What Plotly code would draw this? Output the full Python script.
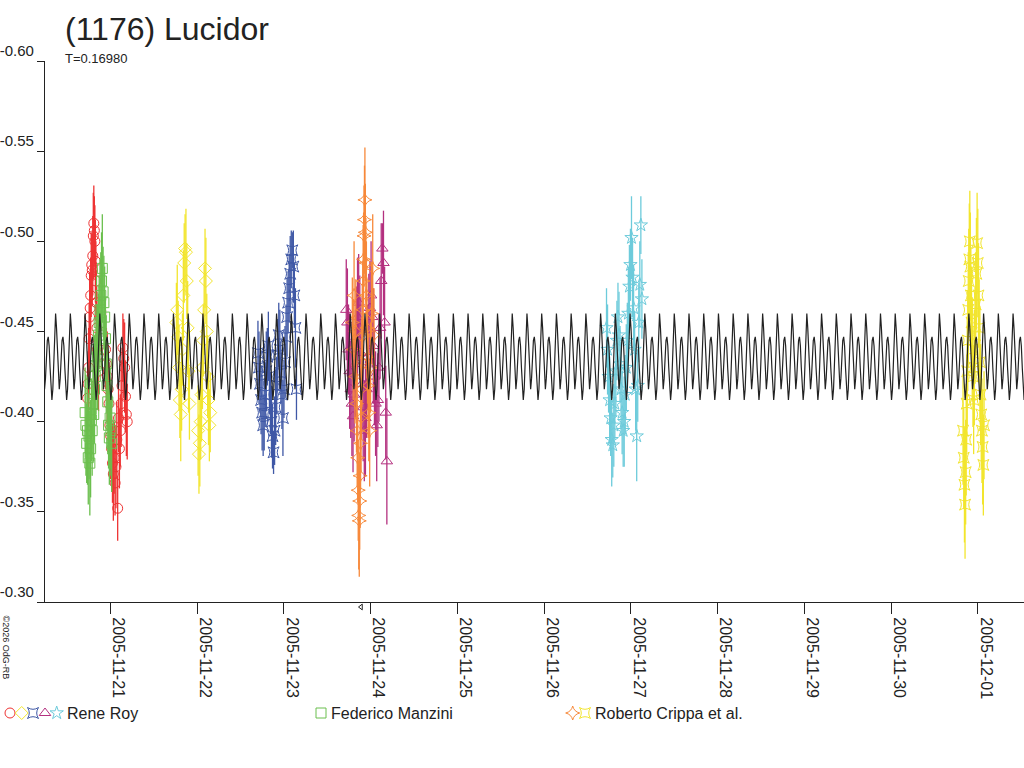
import numpy as np
import pandas as pd
import plotly.graph_objects as go

# ---------------- data ----------------
BASE_DATE = "2005-11-21"          # day offsets below are relative to this date (00:00 UT)
PERIOD_DAYS = 0.16980             # T
CURVE_EPOCH = 3.954               # day offset of a main maximum of the model curve
# one period of the model curve (16 equally spaced phases), magnitudes
curve_profile = [-0.460, -0.452, -0.437, -0.423, -0.418, -0.424, -0.436, -0.445,
                 -0.447, -0.442, -0.430, -0.418, -0.412, -0.418, -0.435, -0.452]
curve_start, curve_end = -0.76, 10.54

# Rene Roy - red circles
red_t = [-0.262, -0.256, -0.250, -0.244, -0.238, -0.232, -0.226, -0.220, -0.214, -0.208, -0.202,
         -0.196, -0.190, -0.184, -0.178, -0.172, -0.166, -0.160, -0.154, -0.148, -0.142, -0.136,
         -0.055, -0.045, -0.035, -0.025, -0.015, -0.005, 0.005, 0.015, 0.025, 0.035, 0.045, 0.055,
         0.065, 0.075, 0.085, 0.095, 0.105, 0.115, 0.125, 0.135, 0.145, 0.155, 0.165, 0.175, 0.185, 0.195]
red_m = [-0.413, -0.421, -0.430, -0.446, -0.458, -0.463, -0.470, -0.481, -0.487, -0.484, -0.492,
         -0.503, -0.510, -0.506, -0.500, -0.489, -0.478, -0.466, -0.452, -0.440, -0.437, -0.428,
         -0.440, -0.432, -0.425, -0.418, -0.410, -0.398, -0.392, -0.385, -0.377, -0.371, -0.380, -0.366,
         -0.375, -0.390, -0.352, -0.402, -0.385, -0.395, -0.410, -0.420, -0.441, -0.435, -0.430, -0.414, -0.404, -0.400]
red_e = [0.020, 0.018, 0.022, 0.020, 0.025, 0.019, 0.021, 0.023, 0.018, 0.020, 0.022,
         0.024, 0.021, 0.019, 0.020, 0.023, 0.022, 0.018, 0.020, 0.021, 0.019, 0.022,
         0.022, 0.020, 0.025, 0.019, 0.023, 0.021, 0.024, 0.018, 0.022, 0.026, 0.020, 0.018,
         0.023, 0.021, 0.018, 0.019, 0.022, 0.020, 0.024, 0.021, 0.019, 0.022, 0.025, 0.020, 0.023, 0.021]

# Federico Manzini - green squares
green_t = [-0.290, -0.281, -0.272, -0.263, -0.254, -0.245, -0.236, -0.227, -0.218, -0.209, -0.200, -0.191,
           -0.182, -0.173, -0.164, -0.155, -0.146, -0.137, -0.128, -0.119, -0.110, -0.101, -0.092, -0.083,
           -0.074, -0.065, -0.056, -0.047, -0.038, -0.029, -0.020, -0.011, -0.002, 0.007, 0.016]
green_m = [-0.405, -0.398, -0.388, -0.395, -0.380, -0.392, -0.377, -0.385, -0.401, -0.395, -0.410, -0.404,
           -0.418, -0.425, -0.431, -0.440, -0.436, -0.448, -0.455, -0.462, -0.470, -0.478, -0.485, -0.472,
           -0.466, -0.458, -0.446, -0.432, -0.420, -0.411, -0.398, -0.391, -0.402, -0.395, -0.388]
green_e = [0.025, 0.028, 0.022, 0.030, 0.026, 0.024, 0.029, 0.027, 0.023, 0.025, 0.028, 0.026,
           0.030, 0.024, 0.027, 0.025, 0.029, 0.023, 0.026, 0.028, 0.024, 0.027, 0.030, 0.025,
           0.026, 0.028, 0.023, 0.027, 0.025, 0.029, 0.024, 0.026, 0.028, 0.025, 0.027]

# Rene Roy - yellow diamonds
ydia_t = [0.762, 0.772, 0.782, 0.792, 0.802, 0.812, 0.822, 0.832, 0.842, 0.852, 0.862, 0.872, 0.882, 0.892,
          0.902, 0.912, 1.012, 1.022, 1.032, 1.042, 1.052, 1.062, 1.072, 1.082, 1.092, 1.102, 1.112, 1.122,
          1.132, 1.142, 1.152]
ydia_m = [-0.455, -0.462, -0.447, -0.430, -0.412, -0.404, -0.418, -0.440, -0.470, -0.488, -0.496, -0.494,
          -0.478, -0.452, -0.428, -0.410, -0.395, -0.382, -0.388, -0.400, -0.415, -0.430, -0.445, -0.462,
          -0.485, -0.478, -0.450, -0.425, -0.412, -0.398, -0.405]
ydia_e = [0.022, 0.025, 0.020, 0.024, 0.021, 0.026, 0.023, 0.020, 0.025, 0.022, 0.019, 0.024, 0.021, 0.026,
          0.023, 0.020, 0.025, 0.022, 0.024, 0.021, 0.026, 0.023, 0.020, 0.025, 0.022, 0.024, 0.021, 0.023,
          0.025, 0.020, 0.022]

# Rene Roy - blue
blue_t = [1.702, 1.714, 1.726, 1.738, 1.750, 1.762, 1.774, 1.786, 1.798, 1.810, 1.822, 1.834, 1.846, 1.858,
          1.870, 1.882, 1.894, 1.906, 1.918, 1.930, 1.942, 1.954, 1.966, 1.978, 1.990, 2.002, 2.014, 2.026,
          2.038, 2.050, 2.062, 2.074, 2.086, 2.098, 2.110, 2.122, 2.134, 2.146]
blue_m = [-0.438, -0.430, -0.421, -0.412, -0.405, -0.398, -0.404, -0.415, -0.428, -0.436, -0.442, -0.425,
          -0.410, -0.400, -0.392, -0.383, -0.395, -0.408, -0.420, -0.437, -0.448, -0.440, -0.427, -0.415,
          -0.402, -0.418, -0.433, -0.447, -0.458, -0.466, -0.474, -0.482, -0.490, -0.495, -0.486, -0.470,
          -0.452, -0.418]
blue_e = [0.018, 0.020, 0.016, 0.019, 0.021, 0.017, 0.020, 0.018, 0.022, 0.016, 0.019, 0.021, 0.017, 0.020,
          0.018, 0.012, 0.019, 0.021, 0.016, 0.020, 0.018, 0.022, 0.017, 0.019, 0.021, 0.016, 0.020, 0.018,
          0.022, 0.017, 0.019, 0.021, 0.016, 0.010, 0.020, 0.018, 0.022, 0.017]

# Rene Roy - magenta triangles
mag_t = [2.720, 2.733, 2.746, 2.759, 2.772, 2.785, 2.798, 2.811, 2.824, 2.837, 2.850, 2.863, 2.876, 2.889,
         2.902, 2.915, 2.928, 2.941, 2.954, 2.967, 2.980, 2.993, 3.006, 3.019, 3.032, 3.045, 3.058, 3.071,
         3.084, 3.097, 3.110, 3.123, 3.136, 3.149, 3.162, 3.175, 3.188]
mag_m = [-0.462, -0.455, -0.440, -0.428, -0.418, -0.410, -0.403, -0.415, -0.432, -0.447, -0.458, -0.466,
         -0.452, -0.438, -0.421, -0.408, -0.395, -0.402, -0.418, -0.436, -0.451, -0.463, -0.470, -0.458,
         -0.442, -0.425, -0.410, -0.398, -0.412, -0.430, -0.452, -0.478, -0.496, -0.488, -0.455, -0.405, -0.378]
mag_e = [0.028, 0.030, 0.025, 0.032, 0.027, 0.029, 0.031, 0.026, 0.030, 0.028, 0.033, 0.027, 0.029, 0.031,
         0.026, 0.030, 0.028, 0.032, 0.027, 0.029, 0.031, 0.026, 0.030, 0.028, 0.032, 0.027, 0.029, 0.031,
         0.026, 0.030, 0.028, 0.032, 0.014, 0.029, 0.031, 0.026, 0.035]

# Roberto Crippa et al. - orange
org_t = [2.790, 2.800, 2.810, 2.820, 2.830, 2.838, 2.846, 2.852, 2.858, 2.864, 2.870, 2.875, 2.880, 2.885,
         2.890, 2.895, 2.900, 2.905, 2.910, 2.915, 2.920, 2.925, 2.930, 2.935, 2.940, 2.946, 2.952, 2.958,
         2.965, 2.972, 2.980, 2.990, 3.000, 3.012, 3.025, 3.040]
org_m = [-0.455, -0.440, -0.470, -0.425, -0.450, -0.410, -0.395, -0.380, -0.362, -0.348, -0.345, -0.356,
         -0.370, -0.388, -0.402, -0.418, -0.433, -0.447, -0.462, -0.478, -0.490, -0.503, -0.512, -0.523,
         -0.505, -0.488, -0.470, -0.452, -0.436, -0.420, -0.405, -0.395, -0.430, -0.460, -0.485, -0.448]
org_e = [0.025, 0.028, 0.030, 0.026, 0.029, 0.027, 0.031, 0.025, 0.028, 0.030, 0.031, 0.027, 0.029, 0.026,
         0.030, 0.028, 0.025, 0.029, 0.027, 0.031, 0.026, 0.028, 0.030, 0.029, 0.027, 0.025, 0.030, 0.028,
         0.026, 0.029, 0.027, 0.031, 0.025, 0.028, 0.030, 0.026]

# Rene Roy - cyan stars
cyan_t = [5.720, 5.732, 5.744, 5.756, 5.768, 5.780, 5.792, 5.804, 5.816, 5.828, 5.840, 5.852, 5.864, 5.876,
          5.888, 5.900, 5.912, 5.924, 5.936, 5.948, 5.960, 5.972, 5.984, 5.996, 6.008, 6.020, 6.032, 6.044,
          6.056, 6.068, 6.080, 6.092, 6.104, 6.116, 6.128]
cyan_m = [-0.452, -0.440, -0.425, -0.412, -0.402, -0.390, -0.387, -0.398, -0.410, -0.428, -0.445, -0.458,
          -0.448, -0.432, -0.418, -0.405, -0.395, -0.400, -0.415, -0.430, -0.445, -0.460, -0.475, -0.487,
          -0.502, -0.480, -0.463, -0.440, -0.418, -0.392, -0.420, -0.455, -0.476, -0.509, -0.468]
cyan_e = [0.022, 0.025, 0.020, 0.024, 0.021, 0.026, 0.018, 0.023, 0.020, 0.025, 0.022, 0.019, 0.024, 0.021,
          0.026, 0.023, 0.020, 0.025, 0.022, 0.024, 0.021, 0.026, 0.023, 0.020, 0.023, 0.022, 0.024, 0.021,
          0.023, 0.025, 0.020, 0.022, 0.024, 0.016, 0.022]

# Roberto Crippa et al. - yellow
ystar_t = [9.830, 9.838, 9.846, 9.853, 9.860, 9.866, 9.872, 9.878, 9.884, 9.890, 9.896, 9.902, 9.908, 9.914,
           9.920, 9.928, 9.936, 9.944, 9.952, 9.960, 9.968, 9.976, 9.984, 9.992, 10.000, 10.008, 10.016,
           10.024, 10.032, 10.040, 10.048, 10.056, 10.064, 10.072]
ystar_m = [-0.395, -0.380, -0.365, -0.354, -0.372, -0.390, -0.410, -0.428, -0.445, -0.462, -0.478, -0.490,
           -0.500, -0.486, -0.470, -0.455, -0.440, -0.425, -0.412, -0.430, -0.448, -0.465, -0.482, -0.499,
           -0.488, -0.470, -0.452, -0.433, -0.415, -0.404, -0.395, -0.386, -0.376, -0.398]
ystar_e = [0.030, 0.028, 0.032, 0.030, 0.029, 0.031, 0.027, 0.030, 0.028, 0.032, 0.029, 0.031, 0.028, 0.030,
           0.027, 0.031, 0.029, 0.028, 0.030, 0.032, 0.027, 0.029, 0.031, 0.028, 0.030, 0.029, 0.027, 0.031,
           0.028, 0.030, 0.029, 0.032, 0.028, 0.030]

# axis ticks
y_tick_vals = [-0.60, -0.55, -0.50, -0.45, -0.40, -0.35, -0.30]
y_tick_text = ["-0.60", "-0.55", "-0.50", "-0.45", "-0.40", "-0.35", "-0.30"]
x_tick_text = ["2005-11-21", "2005-11-22", "2005-11-23", "2005-11-24", "2005-11-25", "2005-11-26",
               "2005-11-27", "2005-11-28", "2005-11-29", "2005-11-30", "2005-12-01"]

title_text = "(1176) Lucidor"
subtitle_text = "T=0.16980"
copyright_text = "©2026 OdG-RB"
legend_names = ["Rene Roy", "Federico Manzini", "Roberto Crippa et al."]

# ---------------- figure ----------------
W, H = 1024, 768
base = pd.Timestamp(BASE_DATE)

def to_time(days):
    return base + pd.to_timedelta(np.asarray(days, dtype=float), unit="D")

series = [
    (red_t, red_m, red_e, "circle-open", "#EE3333"),
    (green_t, green_m, green_e, "square-open", "#6BBF4E"),
    (ydia_t, ydia_m, ydia_e, "diamond-open", "#F2E52E"),
    (blue_t, blue_m, blue_e, "star-square-open", "#3F58A6"),
    (mag_t, mag_m, mag_e, "triangle-up-open", "#B4307F"),
    (org_t, org_m, org_e, "star-diamond-open", "#F7893A"),
    (cyan_t, cyan_m, cyan_e, "star-open", "#6DCBDB"),
    (ystar_t, ystar_m, ystar_e, "star-square-open", "#F2E52E"),
]

fig = go.Figure()
for t, m, e, sym, col in series:
    fig.add_trace(go.Scatter(
        x=to_time(t), y=m, mode="markers",
        error_y=dict(type="data", array=e, visible=True, color=col, thickness=1.3, width=0),
        marker=dict(symbol=sym, size=10, color=col, line=dict(color=col, width=1)),
        hoverinfo="skip", showlegend=False))

# model curve: repeat one-period profile with period T
n_ph = len(curve_profile)
k0 = int(np.floor((curve_start - CURVE_EPOCH) / PERIOD_DAYS)) - 1
k1 = int(np.ceil((curve_end - CURVE_EPOCH) / PERIOD_DAYS)) + 1
ct, cm = [], []
for k in range(k0, k1 + 1):
    for j, v in enumerate(curve_profile):
        ct.append(CURVE_EPOCH + (k + j / n_ph) * PERIOD_DAYS)
        cm.append(v)
fig.add_trace(go.Scatter(x=to_time(ct), y=cm, mode="lines",
                         line=dict(color="#222222", width=1.2),
                         hoverinfo="skip", showlegend=False))

# legend glyphs on a pixel overlay axis
leg_x = [10, 21.7, 33, 45, 56.7, 321, 572.7, 585]
leg_sym = ["circle-open", "diamond-open", "star-square-open", "triangle-up-open", "star-open",
           "square-open", "star-diamond-open", "star-square-open"]
leg_col = ["#EE3333", "#F2E52E", "#3F58A6", "#B4307F", "#6DCBDB", "#6BBF4E", "#F7893A", "#F2E52E"]
fig.add_trace(go.Scatter(x=leg_x, y=[713] * len(leg_x), mode="markers", xaxis="x2", yaxis="y2",
                         marker=dict(symbol=leg_sym, size=10, color=leg_col,
                                     line=dict(color=leg_col, width=1)),
                         hoverinfo="skip", showlegend=False))
fig.add_trace(go.Scatter(x=[361], y=[607], mode="markers", xaxis="x2", yaxis="y2",
                         marker=dict(symbol="triangle-left-open", size=5, color="#222",
                                     line=dict(color="#222", width=1)),
                         hoverinfo="skip", showlegend=False))

x_left, x_right = 45, 1024
y_top, y_bot = 61, 602
px_per_day = 86.75
x0_px = 110.3
xr0 = base + pd.to_timedelta((x_left - x0_px) / px_per_day, unit="D")
xr1 = base + pd.to_timedelta((x_right - x0_px) / px_per_day, unit="D")

fig.update_layout(
    template="none",
    width=W, height=H, margin=dict(l=0, r=0, t=0, b=0, pad=0, autoexpand=False),
    paper_bgcolor="white", plot_bgcolor="rgba(0,0,0,0)", showlegend=False,
    font=dict(family="Liberation Sans, Arial, sans-serif", color="#222222"),
    xaxis=dict(domain=[x_left / W, 1], type="date", range=[xr0, xr1], automargin=False,
               tickvals=list(to_time(range(len(x_tick_text)))), ticktext=x_tick_text,
               tickangle=90, ticks="outside", ticklen=11, tickwidth=1, tickcolor="#222",
               showline=True, linecolor="#222", linewidth=1.2, showgrid=False, zeroline=False,
               tickfont=dict(size=16, color="#222"), ticklabelshift=8),
    yaxis=dict(domain=[1 - y_bot / H, 1 - y_top / H], range=[-0.30, -0.60], automargin=False,
               tickvals=y_tick_vals, ticktext=y_tick_text,
               ticks="outside", ticklen=7, tickwidth=1, tickcolor="#222",
               showline=True, linecolor="#222", linewidth=1.2, showgrid=False, zeroline=False,
               tickfont=dict(size=15, color="#222"), ticklabelshift=10, ticklabelstandoff=0),
    xaxis2=dict(domain=[0, 1], range=[0, W], visible=False, anchor="y2", fixedrange=True, automargin=False),
    yaxis2=dict(domain=[0, 1], range=[H, 0], visible=False, anchor="x2", fixedrange=True, automargin=False),
)

def px(x, y):
    return x / W, 1 - y / H

annos = []
ax, ay = px(64, 29)
annos.append(dict(x=ax, y=ay, text=title_text, font=dict(size=32, color="#222"), xanchor="left", yanchor="middle"))
ax, ay = px(64, 58)
annos.append(dict(x=ax, y=ay, text=subtitle_text, font=dict(size=13, color="#222"), xanchor="left", yanchor="middle"))
ax, ay = px(5.5, 647)
annos.append(dict(x=ax, y=ay, text=copyright_text, font=dict(size=9, color="#222"), textangle=90,
                  xanchor="center", yanchor="middle"))
for name, lx in zip(legend_names, [66, 330, 594]):
    ax, ay = px(lx, 713)
    annos.append(dict(x=ax, y=ay, text=name, font=dict(size=16, color="#222"), xanchor="left", yanchor="middle"))
for a in annos:
    a.update(xref="paper", yref="paper", showarrow=False, borderpad=0)
fig.update_layout(annotations=annos)

fig.write_html("out.html", config={"displayModeBar": False},
               post_script="document.body.style.margin='0';document.body.style.overflow='hidden';")
